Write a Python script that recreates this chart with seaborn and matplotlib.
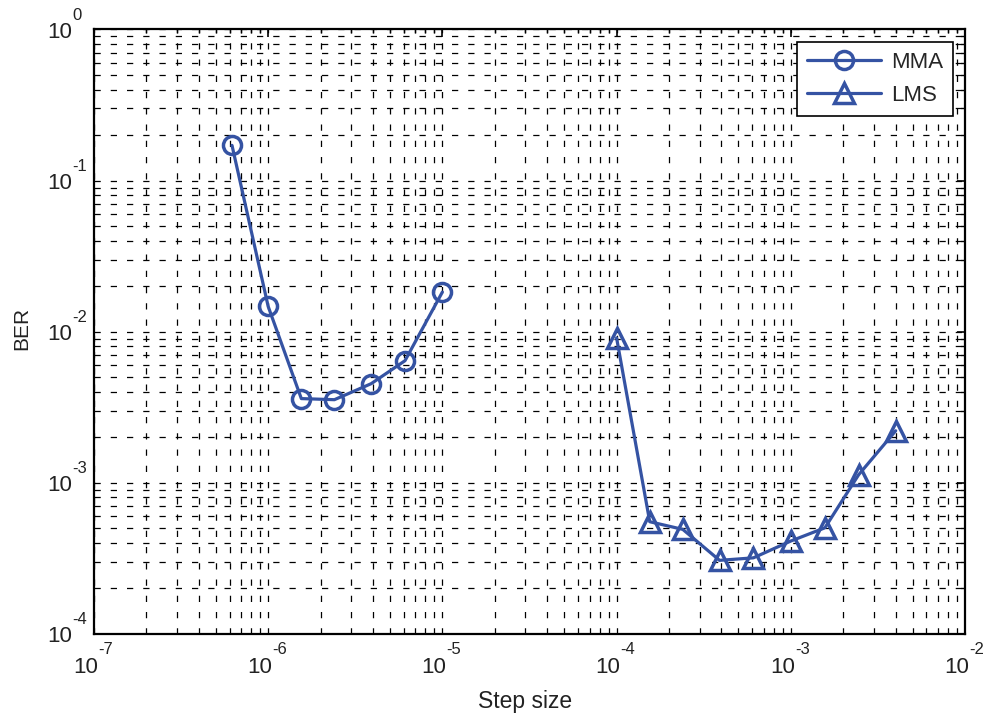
import matplotlib
matplotlib.use("Agg")
import matplotlib.pyplot as plt
import matplotlib.transforms as mtransforms
import seaborn as sns

# data
mma_step = [6.2e-7, 1.0e-6, 1.55e-6, 2.4e-6, 3.9e-6, 6.1e-6, 1.0e-5]
mma_ber = [0.171, 0.0147, 0.00361, 0.00355, 0.00453, 0.00643, 0.0183]
lms_step = [1.0e-4, 1.55e-4, 2.4e-4, 3.9e-4, 6.1e-4, 1.0e-3, 1.57e-3, 2.45e-3, 4.0e-3]
lms_ber = [0.0091, 5.53e-4, 4.92e-4, 3.07e-4, 3.19e-4, 4.12e-4, 5.04e-4, 1.13e-3, 2.21e-3]

x_ticks = [1e-7, 1e-6, 1e-5, 1e-4, 1e-3, 1e-2]
x_exps = ["-7", "-6", "-5", "-4", "-3", "-2"]
y_ticks = [1e-4, 1e-3, 1e-2, 1e-1, 1e0]
y_exps = ["-4", "-3", "-2", "-1", "0"]

sns.set_style("white")
plt.rcParams["font.family"] = ["Liberation Sans", "DejaVu Sans"]

color = "#3553a3"
txt = "#222222"

fig = plt.figure(figsize=(9.86, 7.17), dpi=100)
ax = fig.add_axes([0.0953, 0.1158, 0.8834, 0.8431])
ax.set_xscale("log")
ax.set_yscale("log")

sns.lineplot(x=mma_step, y=mma_ber, ax=ax, color=color, linewidth=2.3, marker="o",
             markersize=13, markerfacecolor="none", markeredgecolor=color,
             markeredgewidth=2.5, label="MMA")
sns.lineplot(x=lms_step, y=lms_ber, ax=ax, color=color, linewidth=2.3, marker="^",
             markersize=14.5, markerfacecolor="none", markeredgecolor=color,
             markeredgewidth=2.5, label="LMS")

ax.set_xlim(1e-7, 1e-2)
ax.set_ylim(1e-4, 1e0)

# MATLAB style grid, dashed on both major and minor ticks
ax.grid(True, which="both", color="black", linestyle=(0, (5, 8)), linewidth=0.9)
ax.tick_params(which="both", direction="in", top=True, right=True, colors="black")
ax.tick_params(which="major", length=6, width=1.2)
ax.tick_params(which="minor", length=3, width=1)
for s in ax.spines.values():
    s.set_color("black")
    s.set_linewidth(1.6)

ax.set_xticks(x_ticks)
ax.set_yticks(y_ticks)
ax.set_xticklabels([])
ax.set_yticklabels([])

# tick labels as "10" with a raised exponent
xt = ax.get_xaxis_transform()
for v, e in zip(x_ticks, x_exps):
    tr = mtransforms.offset_copy(xt, fig=fig, x=4, y=0, units="dots")
    ax.text(v, -0.056, "10", transform=tr, ha="right", va="center",
            fontsize=16, color=txt, clip_on=False)
    ax.text(v, -0.025, e, transform=tr, ha="left", va="center",
            fontsize=12, color=txt, clip_on=False)
yt = ax.get_yaxis_transform()
for v, e in zip(y_ticks, y_exps):
    ax.text(-0.0252, v, "10", transform=mtransforms.offset_copy(yt, fig=fig, x=0, y=-3, units="dots"),
            ha="right", va="center", fontsize=16, color=txt, clip_on=False)
    ax.text(-0.0252, v, e, transform=mtransforms.offset_copy(yt, fig=fig, x=0, y=14, units="dots"),
            ha="left", va="center", fontsize=12, color=txt, clip_on=False)

ax.set_xlabel("Step size", fontsize=16.5, color=txt)
ax.set_ylabel("BER", fontsize=15, color=txt)
ax.xaxis.set_label_coords(0.495, -0.092)
ax.yaxis.set_label_coords(-0.0715, 0.505)

leg = ax.legend(loc="upper right", fontsize=16, frameon=True, fancybox=False,
                framealpha=1, edgecolor="black", borderaxespad=0.55,
                handlelength=3.3, handletextpad=0.45, borderpad=0.45,
                labelspacing=0.55)
leg.get_frame().set_linewidth(1.2)

fig.savefig("out.png", dpi=100)
